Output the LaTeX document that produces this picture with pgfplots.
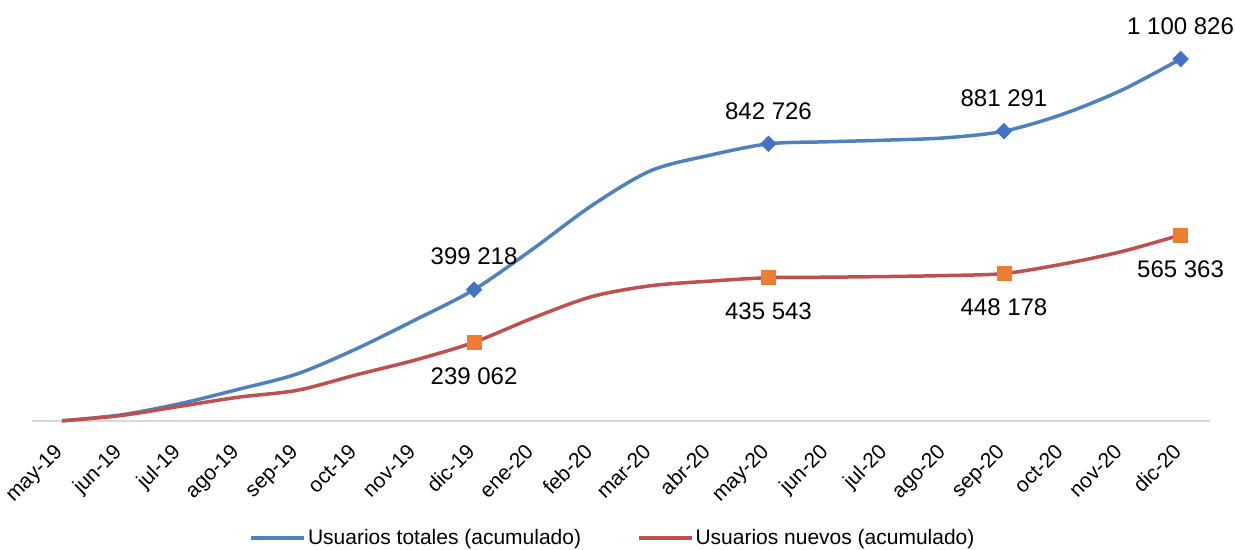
\documentclass[border=0pt]{standalone}
\usepackage{fontspec}
\setmainfont{Liberation Sans}
\usepackage{pgfplots}
\pgfplotsset{compat=1.18}
\usepackage{pgfplotstable}
\definecolor{blueline}{HTML}{4F81BD}
\definecolor{redline}{HTML}{C0504D}
\definecolor{bluemark}{HTML}{4472C4}
\definecolor{orangemark}{HTML}{ED7D31}
\definecolor{axgray}{HTML}{D9D9D9}

\pgfplotstableread[col sep=comma]{
x,total,nuevo
0,0,0
1,18000,16000
2,52000,44000
3,96000,72000
4,143000,93000
5,219000,140000
6,307000,185000
7,399218,239062
8,523000,313000
9,655000,378000
10,761000,411000
11,808000,425000
12,842726,435543
13,849000,437000
14,854000,439000
15,861000,442000
16,881291,448178
17,933000,477000
18,1006000,515000
19,1100826,565363
}\datatable

\pgfplotstableread[col sep=comma]{
x,y,label
7,399218,399 218
12,842726,842 726
16,881291,881 291
19,1100826,1 100 826
}\totmarks

\pgfplotstableread[col sep=comma]{
x,y,label
7,239062,239 062
12,435543,435 543
16,448178,448 178
19,565363,565 363
}\newmarks

\begin{document}
\begin{tikzpicture}
\begin{axis}[
  name=ax,
  scale only axis,
  width=1178pt, height=411pt,
  xmin=-0.5, xmax=19.5,
  ymin=0, ymax=1250000,
  axis x line*=bottom,
  axis y line=none,
  x axis line style={draw=axgray, line width=1.5pt, -},
  xtick={0,...,19},
  xticklabels={may-19,jun-19,jul-19,ago-19,sep-19,oct-19,nov-19,dic-19,ene-20,feb-20,mar-20,abr-20,may-20,jun-20,jul-20,ago-20,sep-20,oct-20,nov-20,dic-20},
  major tick length=0pt,
  tick label style={font=\fontsize{21}{21}\selectfont},
  xticklabel style={rotate=45, anchor=north east, font=\fontsize{21}{21}\selectfont, inner sep=1pt, xshift=-20.5pt, yshift=-7.8pt},
  ytick=\empty,
  clip=false,
  legend style={at={(0.493,-0.285)}, anchor=center, draw=none, fill=none,
    legend columns=2, font=\fontsize{21}{21}\selectfont,
    /tikz/every even column/.append style={column sep=54pt}},
  legend image code/.code={\draw[#1, line width=3.5pt] (0pt,0pt) -- (53pt,0pt);},
]
\addplot[blueline, line width=3.5pt, smooth, tension=0.5, no marks] table[x=x, y=total] {\datatable};
\addlegendentry{Usuarios totales (acumulado)}
\addplot[redline, line width=3.5pt, smooth, tension=0.5, no marks] table[x=x, y=nuevo] {\datatable};
\addlegendentry{Usuarios nuevos (acumulado)}

\addplot[only marks, mark=square*, mark size=5.6pt, mark options={rotate=45, fill=bluemark, draw=bluemark},
  nodes near coords, point meta=explicit symbolic,
  every node near coord/.append style={anchor=center, yshift=33pt, font=\fontsize{24}{24}\selectfont, text=black},
  forget plot] table[x=x, y=y, meta=label] {\totmarks};
\addplot[only marks, mark=square*, mark size=7pt, mark options={fill=orangemark, draw=orangemark},
  nodes near coords, point meta=explicit symbolic,
  every node near coord/.append style={anchor=center, yshift=-34pt, font=\fontsize{24}{24}\selectfont, text=black},
  forget plot] table[x=x, y=y, meta=label] {\newmarks};

\coordinate (ll) at (rel axis cs:0,0);
\coordinate (ur) at (rel axis cs:1,1);
\end{axis}
\pgfresetboundingbox
\path[use as bounding box] ([xshift=-32.5pt,yshift=-129pt]ll) rectangle ([xshift=25pt,yshift=10pt]ur);
\end{tikzpicture}
\end{document}
